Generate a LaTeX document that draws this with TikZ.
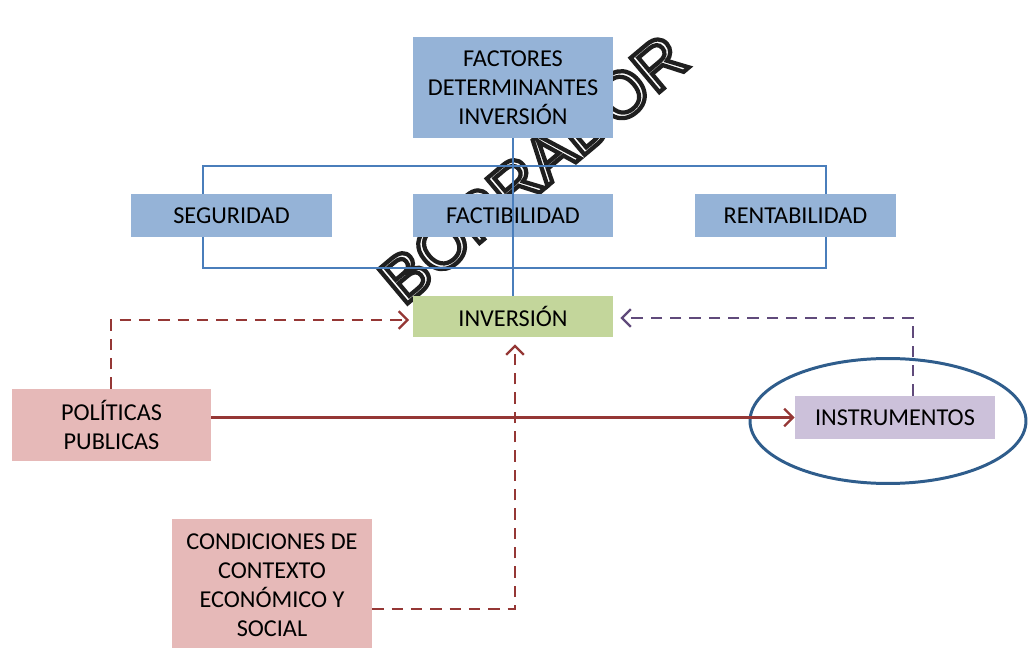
\documentclass[tikz,border=0pt]{standalone}
\usepackage{fontspec}
\setmainfont{Carlito}
\newfontfamily\wmfont{Liberation Sans}
\usetikzlibrary{arrows.meta,shapes.geometric}
\definecolor{boxblue}{HTML}{95B3D7}
\definecolor{lineblue}{HTML}{4A7EBB}
\definecolor{boxgreen}{HTML}{C3D69B}
\definecolor{boxpink}{HTML}{E6B9B8}
\definecolor{boxlav}{HTML}{CCC1DA}
\definecolor{arrred}{HTML}{953735}
\definecolor{arrpurp}{HTML}{604A7B}
\definecolor{ellblue}{HTML}{2F5D8C}
\newcommand{\outlinetext}[1]{\special{pdf:literal direct 1 Tr 2.4 w 0.12 0.12 0.12 RG}#1\special{pdf:literal direct 0 Tr}}
\tikzset{
  box/.style={inner sep=0pt, minimum width=4cm, minimum height=0.86cm, align=center,
    font=\fontsize{13.8}{16.5}\selectfont, text=black},
  bluebox/.style={box, fill=boxblue},
  bracket/.style={draw=lineblue, line width=1.1pt},
  tip/.style={-{Straight Barb[length=5pt,width=10pt,line width=1.3pt]}},
  redsolid/.style={draw=arrred, line width=1.3pt, tip},
  reddash/.style={draw=arrred, line width=1.5pt, dash pattern=on 6.5pt off 4.5pt, tip},
  purpdash/.style={draw=arrpurp, line width=1.5pt, dash pattern=on 6.5pt off 4.5pt, tip},
}
\begin{document}
\begin{tikzpicture}[x=0.02cm,y=-0.02cm]
\useasboundingbox (0,0) rectangle (1032,648);
% watermark (behind)
\node[rotate=40, font=\wmfont\fontsize{37}{37}\selectfont] (wm) at (533,169)
  {\outlinetext{BORRADOR}};
% bracket
\coordinate (btl) at (203,166);
\coordinate (bbr) at (826,268);
\draw[bracket] (btl) rectangle (bbr);
% nodes
\node[bluebox, minimum height=2.02cm] (fac) at (513,87.5) {FACTORES\\DETERMINANTES\\INVERSIÓN};
\node[bluebox, minimum width=4.02cm] (seg) at (231.5,215.5) {SEGURIDAD};
\node[bluebox] (fact) at (513,215.5) {FACTIBILIDAD};
\node[bluebox, minimum width=4.02cm] (rent) at (795.5,215.5) {RENTABILIDAD};
\node[box, fill=boxgreen, minimum height=0.82cm] (inv) at (513,316.5) {INVERSIÓN};
\node[box, fill=boxpink, minimum width=3.98cm, minimum height=1.44cm] (pol) at (111.5,425) {POLÍTICAS\\PUBLICAS};
\node[box, fill=boxlav] (ins) at (895,417.5) {INSTRUMENTOS};
\node[box, fill=boxpink, minimum height=2.64cm] (cond) at (272,585) {CONDICIONES DE\\CONTEXTO\\ECONÓMICO Y\\SOCIAL};
\node[draw=ellblue, line width=1.7pt, ellipse, inner sep=0pt, minimum width=5.52cm, minimum height=2.5cm] (ell) at (888,421) {};
% center vertical
\draw[bracket] (fac.south) -- (inv.north);
% arrows
\coordinate (polup) at (111,320);
\draw[reddash] (pol.north -| polup) -- (polup) -- ([xshift=-2pt]inv.west |- polup);
\draw[redsolid] (pol.east |- ins.west) -- (ins.west);
\coordinate (insup) at (913,318);
\draw[purpdash] (ins.north -| insup) -- (insup) -- ([xshift=4pt]inv.east |- insup);
\coordinate (condc) at (515,609);
\draw[reddash] (cond.east |- condc) -- (condc) -- ([yshift=-4pt]inv.south -| condc);
\end{tikzpicture}
\end{document}
